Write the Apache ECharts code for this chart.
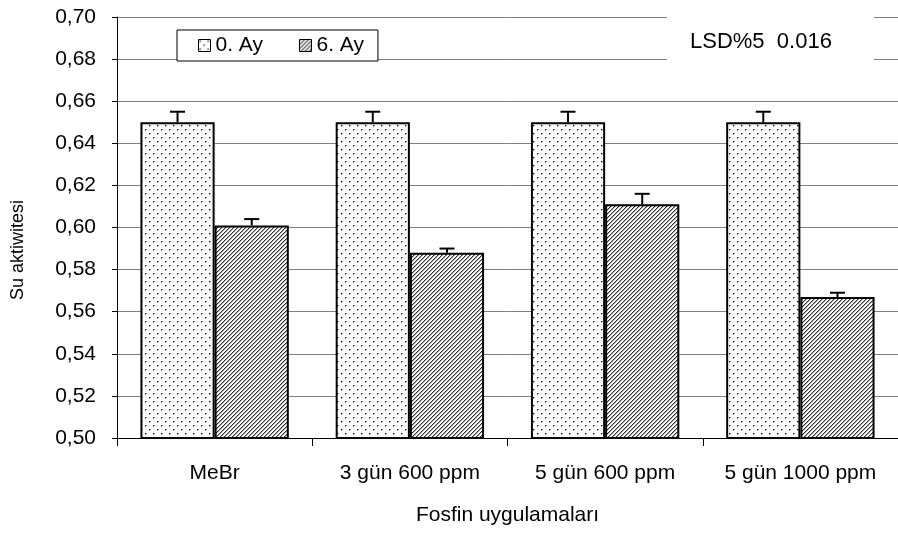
<!DOCTYPE html>
<html>
<head>
<meta charset="utf-8">
<script src="https://cdn.jsdelivr.net/npm/echarts@6/dist/echarts.min.js"></script>
<style>
html,body{margin:0;padding:0;background:#fff;}
#chart{width:898px;height:538px;}
</style>
</head>
<body>
<div id="chart"></div>
<script>
// ---- data ----
var categories = ['MeBr', '3 gün 600 ppm', '5 gün 600 ppm', '5 gün 1000 ppm'];
var seriesNames = ['0. Ay', '6. Ay'];
var month0 = [0.650, 0.650, 0.650, 0.650];
var month0Err = [0.005, 0.005, 0.005, 0.005];
var month6 = [0.601, 0.588, 0.611, 0.567];
var month6Err = [0.003, 0.002, 0.005, 0.002];
var yTicks = { min: 0.50, max: 0.70, step: 0.02 };
var xTitle = 'Fosfin uygulamaları';
var yTitle = 'Su aktiwitesi';
var lsdText = 'LSD%5  0.016';

// ---- patterns ----
function dotPattern() {
  var c = document.createElement('canvas');
  c.width = 8; c.height = 8;
  var ctx = c.getContext('2d');
  ctx.fillStyle = '#fff'; ctx.fillRect(0, 0, 8, 8);
  ctx.fillStyle = '#111';
  ctx.fillRect(1, 1, 1, 1); ctx.fillRect(5, 5, 1, 1);
  ctx.fillStyle = '#999';
  ctx.fillRect(2, 1, 1, 1); ctx.fillRect(1, 2, 1, 1);
  ctx.fillRect(6, 5, 1, 1); ctx.fillRect(5, 6, 1, 1);
  return c;
}
function hatchPattern() {
  var c = document.createElement('canvas');
  c.width = 4; c.height = 4;
  var ctx = c.getContext('2d');
  for (var x = 0; x < 4; x++) {
    for (var y = 0; y < 4; y++) {
      var m = (x + y) % 4;
      ctx.fillStyle = m === 0 ? '#2e2e2e' : (m === 1 ? '#a8a8a8' : '#ffffff');
      ctx.fillRect(x, y, 1, 1);
    }
  }
  return c;
}

var chart = echarts.init(document.getElementById('chart'), null, { renderer: 'canvas' });
var FONT = 'Liberation Sans';
var CAT_GAP = 0.24;

function errData(vals, errs) {
  return vals.map(function (v, i) { return [i, v, errs[i]]; });
}
function errRender(side) {
  return function (params, api) {
    var i = api.value(0), v = api.value(1), e = api.value(2);
    var band = api.size([1, 0])[0];
    var barW = band * (1 - CAT_GAP) / 2;
    var p0 = api.coord([i, v]);
    var p1 = api.coord([i, v + e]);
    var x = p0[0] + side * barW / 2;
    var cap = 7.5;
    return {
      type: 'group',
      children: [
        { type: 'line', shape: { x1: x, y1: p0[1], x2: x, y2: p1[1] }, style: { stroke: '#000', lineWidth: 2 } },
        { type: 'line', shape: { x1: x - cap, y1: p1[1], x2: x + cap, y2: p1[1] }, style: { stroke: '#000', lineWidth: 2 } }
      ]
    };
  };
}

var option = {
  backgroundColor: '#fff',
  animation: false,
  textStyle: { fontFamily: FONT, color: '#000' },
  grid: { left: 117, right: 0, top: 17, bottom: 100, containLabel: false },
  legend: {
    data: seriesNames,
    left: 177, top: 30,
    orient: 'horizontal',
    icon: 'rect',
    backgroundColor: '#fff',
    borderColor: '#000', borderWidth: 1,
    padding: [5, 14, 5, 21],
    itemGap: 36, itemWidth: 12, itemHeight: 12,
    itemStyle: { borderWidth: 1, borderColor: '#000' },
    textStyle: { fontFamily: FONT, fontSize: 21, color: '#000' }
  },
  xAxis: {
    type: 'category',
    data: categories,
    name: xTitle,
    nameLocation: 'middle',
    nameGap: 67,
    nameTextStyle: { fontFamily: FONT, fontSize: 21, color: '#000' },
    axisLine: { lineStyle: { color: '#000', width: 1 } },
    axisTick: { show: true, length: 8, lineStyle: { color: '#000' } },
    axisLabel: { fontFamily: FONT, fontSize: 21, color: '#000', margin: 25, interval: 0 }
  },
  yAxis: {
    type: 'value',
    min: yTicks.min, max: yTicks.max, interval: yTicks.step,
    axisLine: { show: true, lineStyle: { color: '#000', width: 1 } },
    axisTick: { show: true, length: 5, lineStyle: { color: '#000' } },
    axisLabel: {
      fontFamily: FONT, fontSize: 21, color: '#000', margin: 21,
      formatter: function (v) { return v.toFixed(2).replace('.', ','); }
    },
    splitLine: { show: true, lineStyle: { color: '#808080', width: 1 } }
  },
  series: [
    {
      name: seriesNames[0], type: 'bar', data: month0,
      barGap: '0%', barCategoryGap: (CAT_GAP * 100) + '%',
      itemStyle: { color: { image: dotPattern(), repeat: 'repeat' }, borderColor: '#000', borderWidth: 2 },
      emphasis: { disabled: true }
    },
    {
      name: seriesNames[1], type: 'bar', data: month6,
      barGap: '0%', barCategoryGap: (CAT_GAP * 100) + '%',
      itemStyle: { color: { image: hatchPattern(), repeat: 'repeat' }, borderColor: '#000', borderWidth: 2 },
      emphasis: { disabled: true }
    },
    {
      name: 'err0', type: 'custom', data: errData(month0, month0Err),
      renderItem: errRender(-1), encode: { x: 0, y: 1 }, z: 5, silent: true
    },
    {
      name: 'err6', type: 'custom', data: errData(month6, month6Err),
      renderItem: errRender(1), encode: { x: 0, y: 1 }, z: 5, silent: true
    }
  ],
  graphic: [
    { type: 'rect', z: 100, shape: { x: 667, y: 8, width: 207, height: 58 }, style: { fill: '#fff' } },
    { type: 'text', z: 101, x: 690, y: 42, style: { text: lsdText, font: '22px "Liberation Sans"', fill: '#000', verticalAlign: 'middle' } },
    { type: 'text', z: 101, x: 18, y: 250, rotation: Math.PI / 2, style: { text: yTitle, font: '18px "Liberation Sans"', fill: '#000', align: 'center', verticalAlign: 'middle' } }
  ]
};
chart.setOption(option);
</script>
</body>
</html>
